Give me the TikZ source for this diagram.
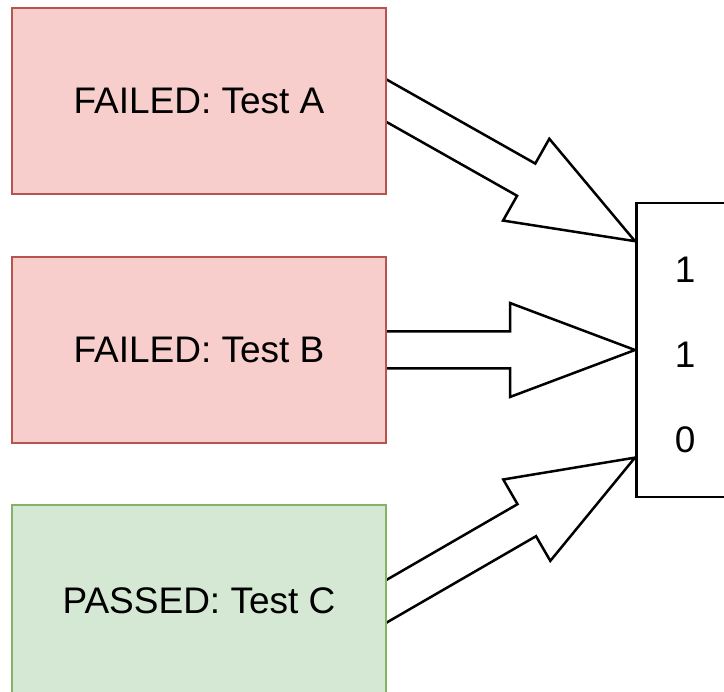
\documentclass[tikz,border=0pt]{standalone}
\usepackage{fontspec}
\setmainfont{Liberation Sans}
\usetikzlibrary{positioning,calc,backgrounds}

\definecolor{failfill}{HTML}{F8CECC}
\definecolor{faildraw}{HTML}{B85450}
\definecolor{passfill}{HTML}{D5E8D4}
\definecolor{passdraw}{HTML}{82B366}

\newcommand{\flexarrow}[2]{%
  \path ($(#1)!-30pt!(#2)$) coordinate (fa-s)
        ($(#2)!125pt!(#1)$) coordinate (fa-h);
  \draw[fat]
    ($(fa-s)!18.5pt!90:(#2)$) -- ($(fa-h)!18.5pt!90:(#2)$)
    -- ($(fa-h)!47pt!90:(#2)$) -- (#2)
    -- ($(fa-h)!47pt!-90:(#2)$) -- ($(fa-h)!18.5pt!-90:(#2)$)
    -- ($(fa-s)!18.5pt!-90:(#2)$) -- cycle;
}

\begin{document}
\begin{tikzpicture}[
  x=1pt, y=1pt,
  font=\fontsize{37}{44}\selectfont,
  test/.style={draw, line width=2pt, minimum width=374pt, minimum height=186pt, inner sep=0pt},
  failed/.style={test, fill=failfill, draw=faildraw},
  passed/.style={test, fill=passfill, draw=passdraw},
  result/.style={draw, line width=2.5pt, fill=white, align=center,
                 minimum width=98pt, minimum height=294pt, inner sep=0pt,
                 text height=206pt, text depth=0pt},
  fat/.style={draw, fill=white, line width=2.5pt, line join=miter},
  node distance=61pt and 248pt
]
\useasboundingbox (0,0) rectangle (724,692);
\node[failed] (a) at (199,591) {FAILED: Test A};
\node[failed, below=of a] (b) {FAILED: Test B};
\node[passed, below=60pt of b, minimum height=192pt] (c) {PASSED: Test C};
\node[result, right=of b] (res) {1\\[41pt]1\\[41pt]0};

\coordinate (inA) at ($(res.north west)!0.133!(res.south west)$);
\coordinate (inC) at ($(res.north west)!0.863!(res.south west)$);

\begin{scope}[on background layer]
  \flexarrow{a.east}{inA}
  \flexarrow{b.east}{res.west}
  \flexarrow{c.east}{inC}
\end{scope}
\end{tikzpicture}
\end{document}
